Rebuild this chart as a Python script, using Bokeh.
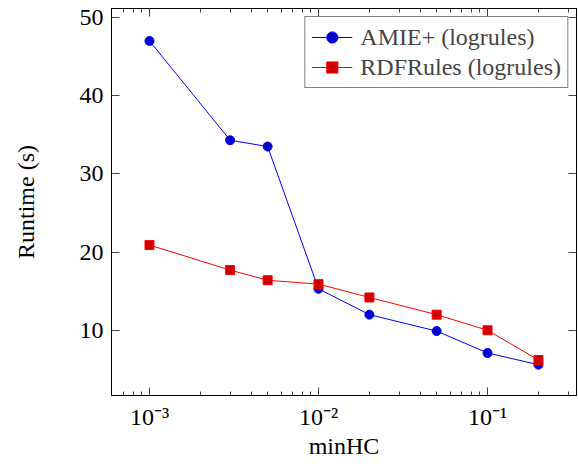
from bokeh.plotting import figure
from bokeh.models import (LogAxis, LinearAxis, LogTicker, SingleIntervalTicker, Legend, LegendItem,
                          CustomJSTickFormatter, Range1d)
from bokeh.embed import file_html
from bokeh.resources import INLINE

min_hc = [0.001, 0.003, 0.005, 0.01, 0.02, 0.05, 0.1, 0.2]
amie = [47.0, 34.3, 33.5, 15.3, 12.0, 9.9, 7.1, 5.6]
rdfrules = [20.9, 17.7, 16.4, 15.9, 14.2, 12.0, 10.0, 6.2]
y_ticks = [10, 20, 30, 40, 50]

FONT = "Liberation Serif"

p = figure(width=578, height=464, x_axis_type="log", output_backend="svg", toolbar_location=None,
           x_range=Range1d(5.96e-4, 0.336), y_range=Range1d(1.66, 51.15),
           min_border_left=111, min_border_right=2, min_border_top=8, min_border_bottom=69)
p.xgrid.visible = False
p.ygrid.visible = False
p.outline_line_color = "black"
p.outline_line_width = 1

fmt = CustomJSTickFormatter(code="""
const e = Math.round(Math.log10(tick));
const sup = {"-":"\u207b","0":"\u2070","1":"\u00b9","2":"\u00b2","3":"\u00b3","4":"\u2074","5":"\u2075","6":"\u2076","7":"\u2077","8":"\u2078","9":"\u2079"};
return "10" + String(e).split("").map(c => sup[c]).join("");
""")
blank = CustomJSTickFormatter(code="return '';")

xt = LogTicker(num_minor_ticks=10)
yt = SingleIntervalTicker(interval=10, num_minor_ticks=0)

def style(ax):
    ax.axis_line_color = "black"
    ax.major_tick_in = 8
    ax.major_tick_out = 0
    ax.minor_tick_in = 4
    ax.minor_tick_out = 0
    ax.major_tick_line_color = "#444444"
    ax.minor_tick_line_color = "#444444"
    ax.major_label_text_font = FONT
    ax.major_label_text_font_size = "24px"
    ax.major_label_text_color = "black"
    ax.axis_label_text_font = FONT
    ax.axis_label_text_font_size = "24px"
    ax.axis_label_text_font_style = "normal"
    ax.axis_label_text_color = "black"

p.xaxis.ticker = xt
p.xaxis.formatter = fmt
p.xaxis.axis_label = "minHC"
p.yaxis.ticker = yt
p.yaxis.axis_label = "Runtime (s)"
style(p.xaxis[0])
style(p.yaxis[0])
p.xaxis.major_label_standoff = 8
p.yaxis.major_label_standoff = 8
p.yaxis.axis_label_standoff = 38
p.xaxis.axis_label_standoff = 0

top = LogAxis(ticker=xt, formatter=blank)
style(top)
top.major_label_standoff = 0
p.add_layout(top, "above")
right = LinearAxis(ticker=yt, formatter=blank)
style(right)
right.major_label_standoff = 0
p.add_layout(right, "right")

l1 = p.line(min_hc, amie, line_color="#0000ff", line_width=1)
s1 = p.scatter(min_hc, amie, marker="circle", size=9, fill_color="#0000cc", line_color="#0000ff")
l2 = p.line(min_hc, rdfrules, line_color="#ff0000", line_width=1)
s2 = p.scatter(min_hc, rdfrules, marker="square", size=9, fill_color="#cc0000", line_color="#ff0000")

legend = Legend(items=[LegendItem(label="AMIE+ (logrules)", renderers=[l1, s1]),
                       LegendItem(label="RDFRules (logrules)", renderers=[l2, s2])],
                location="top_right")
legend.label_text_font = FONT
legend.label_text_font_size = "24px"
legend.border_line_color = "black"
legend.border_line_width = 1
legend.glyph_width = 41
legend.label_height = 28
legend.glyph_height = 28
legend.spacing = 2
legend.padding = 6
legend.margin = 8
legend.label_standoff = 8
p.add_layout(legend)

open("out.html", "w").write(file_html(p, INLINE))
